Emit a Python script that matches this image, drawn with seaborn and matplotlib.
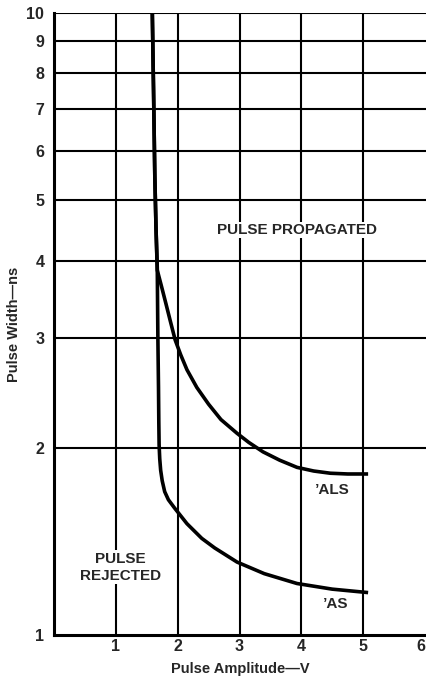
import matplotlib
matplotlib.use("Agg")
import matplotlib.pyplot as plt
import seaborn as sns
import pandas as pd

# Threshold curves: pulse amplitude (V) vs minimum pulse width (ns)
als_amplitude = [1.59, 1.61, 1.63, 1.65, 1.66, 1.67, 1.74, 1.81, 1.88, 1.96, 2.05, 2.15, 2.31, 2.50,
                 2.70, 2.96, 3.15, 3.38, 3.65, 3.93, 4.20, 4.47, 4.75, 5.08]
als_width = [10.0, 7.5, 5.5, 4.5, 4.16, 3.86, 3.63, 3.41, 3.20, 2.98, 2.82, 2.67, 2.50, 2.35,
             2.22, 2.11, 2.04, 1.97, 1.91, 1.86, 1.835, 1.82, 1.815, 1.815]

as_amplitude = [1.59, 1.61, 1.63, 1.65, 1.67, 1.68, 1.69, 1.695, 1.70, 1.71, 1.725, 1.75, 1.79, 1.85, 1.95,
                2.15, 2.39, 2.60, 2.96, 3.40, 3.93, 4.50, 5.08]
as_width = [10.0, 7.5, 5.5, 4.5, 3.9, 3.0, 2.5, 2.2, 2.02, 1.92, 1.84, 1.77, 1.70, 1.65, 1.60,
            1.51, 1.43, 1.38, 1.31, 1.255, 1.21, 1.185, 1.17]

x_ticks = [1, 2, 3, 4, 5, 6]
y_ticks = [1, 2, 3, 4, 5, 6, 7, 8, 9, 10]

sns.set_style("white")
plt.rcParams["font.family"] = ["Liberation Sans", "DejaVu Sans"]
plt.rcParams["font.weight"] = "bold"

fig = plt.figure(figsize=(4.27, 6.8), dpi=100)
ax = fig.add_axes([54 / 427, 1 - 635 / 680, 1 - 54 / 427, (635 - 13) / 680])

df = pd.concat([
    pd.DataFrame({"amp": als_amplitude, "width": als_width, "family": "'ALS"}),
    pd.DataFrame({"amp": as_amplitude, "width": as_width, "family": "'AS"}),
])
sns.lineplot(data=df, x="amp", y="width", units="family", estimator=None,
             sort=False, color="black", linewidth=2.6, legend=False, ax=ax,
             zorder=5, solid_capstyle="butt", solid_joinstyle="round")

ax.set_yscale("log")
ax.set_xlim(0, 6 * 373 / 371)
ax.set_ylim(1, 10)

ax.set_xticks(x_ticks)
ax.set_xticklabels([str(v) for v in x_ticks])
ax.set_yticks(y_ticks)
ax.set_yticklabels([str(v) for v in y_ticks])
ax.yaxis.set_minor_locator(matplotlib.ticker.NullLocator())
ax.tick_params(axis="x", length=0, labelsize=11.5, pad=3)
ax.tick_params(axis="y", length=0, labelsize=11.5, pad=7)
for lbl in ax.get_xticklabels() + ax.get_yticklabels():
    lbl.set_fontweight("bold")
ax.get_xticklabels()[-1].set_horizontalalignment("right")

# Grid
for xv in x_ticks[:-1]:
    ax.axvline(xv, color="black", linewidth=1.5, zorder=2)
for yv in y_ticks[1:]:
    ax.axhline(yv, color="black", linewidth=1.5, zorder=2)

for side in ["top", "right"]:
    ax.spines[side].set_visible(False)
for side in ["left", "bottom"]:
    ax.spines[side].set_linewidth(2.2)
    ax.spines[side].set_color("black")

ax.set_xlabel("Pulse Amplitude\u2014V", fontsize=10.5, fontweight="bold", labelpad=6)
ax.set_ylabel("Pulse Width\u2014ns", fontsize=10.5, fontweight="bold", labelpad=4)

ax.text(3.93, 4.48, "PULSE PROPAGATED", ha="center", va="center",
        fontsize=11, fontweight="bold", zorder=6,
        bbox=dict(facecolor="white", edgecolor="none", pad=1))
ax.text(1.07, 1.285, "PULSE\nREJECTED", ha="center", va="center",
        fontsize=11, fontweight="bold", linespacing=1.3, zorder=6,
        bbox=dict(facecolor="white", edgecolor="none", pad=1))
ax.text(4.5, 1.71, "\u2019ALS", ha="center", va="center",
        fontsize=11, fontweight="bold", zorder=6,
        bbox=dict(facecolor="white", edgecolor="none", pad=1))
ax.text(4.55, 1.12, "\u2019AS", ha="center", va="center",
        fontsize=11, fontweight="bold", zorder=6,
        bbox=dict(facecolor="white", edgecolor="none", pad=1))

fig.savefig("out.png", dpi=100, facecolor="white")
